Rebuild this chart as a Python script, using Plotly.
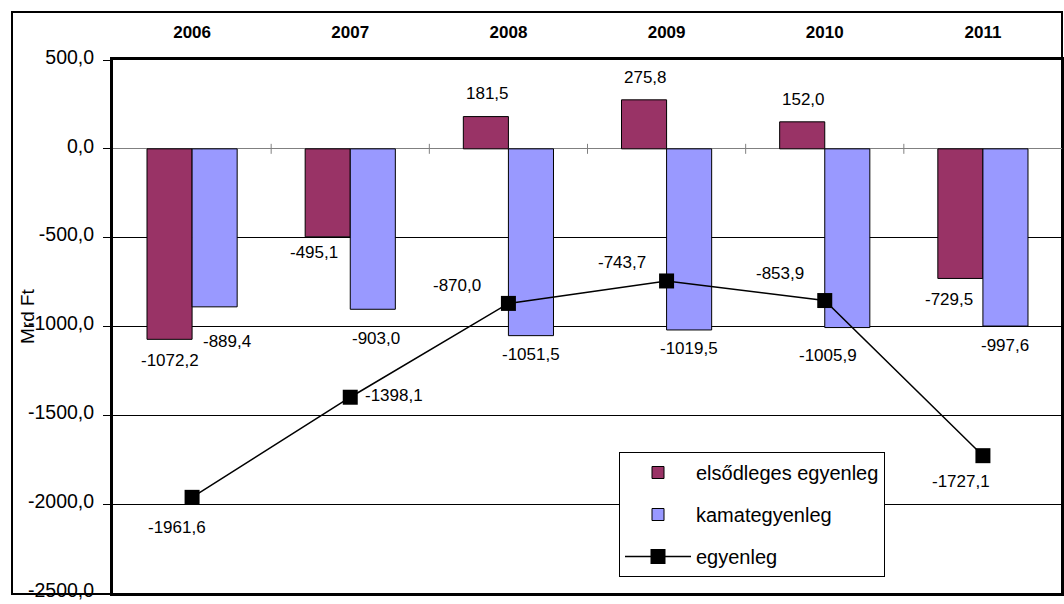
import plotly.graph_objects as go

# ---- data ----
years = ["2006", "2007", "2008", "2009", "2010", "2011"]
elsodleges = [-1072.2, -495.1, 181.5, 275.8, 152.0, -729.5]
kamat = [-889.4, -903.0, -1051.5, -1019.5, -1005.9, -997.6]
egyenleg = [-1961.6, -1398.1, -870.0, -743.7, -853.9, -1727.1]
y_ticks = [500, 0, -500, -1000, -1500, -2000, -2500]

# ---- layout geometry (pixels) ----
FW, FH = 1064, 604
L, R, T, B = 113, 2, 60, 11
PW, PH = FW - L - R, FH - T - B
def px(x):
    return (x - L) / PW
def py(y):
    return (FH - B - y) / PH

def fmt(v):
    return f"{v:.1f}".replace(".", ",")

MAROON = "#993366"
BLUE = "#9999FF"
FONT = "Liberation Sans, Arial, sans-serif"

fig = go.Figure()
fig.add_trace(go.Bar(x=years, y=elsodleges, name="elsődleges egyenleg",
                     marker=dict(color=MAROON, line=dict(color="black", width=1)),
                     legendgroup="a", legendrank=1))
fig.add_trace(go.Bar(x=years, y=kamat, name="kamategyenleg",
                     marker=dict(color=BLUE, line=dict(color="black", width=1)),
                     legendgroup="b", legendrank=2))
fig.add_trace(go.Scatter(x=years, y=egyenleg, name="egyenleg", mode="lines+markers",
                         line=dict(color="black", width=1.5),
                         marker=dict(symbol="square", size=15, color="black"),
                         legendgroup="c", legendrank=3))

# data label nudges (pixels, dx right, dy down) relative to bar end / marker
nudge_e = [(0, 21), (-14, 16), (2, -23), (1, -22), (1, -22), (-11, 21)]
nudge_k = [(12, 35), (3, 29), (0, 19), (0, 19), (-19, 28), (0, 19)]
nudge_l = [(-15, 30), (44, -2), (-51, -18), (-45, -18), (-45, -27), (-22, 26)]
bar_off = 22.5

ann = []
for i, yr in enumerate(years):
    for vals, nd, off in ((elsodleges, nudge_e, -bar_off), (kamat, nudge_k, bar_off), (egyenleg, nudge_l, 0)):
        dx, dy = nd[i]
        ann.append(dict(x=i, y=vals[i], xref="x", yref="y", text=fmt(vals[i]),
                        showarrow=False, xshift=off + dx, yshift=-dy,
                        font=dict(family=FONT, size=17, color="black")))
ann.append(dict(x=px(27), y=py(316), xref="paper", yref="paper", text="Mrd Ft",
                xanchor="center", yanchor="middle",
                textangle=-90, showarrow=False,
                font=dict(family=FONT, size=19, color="black")))

shapes = []
# category separator ticks on the zero line
for i in range(len(years) - 1):
    shapes.append(dict(type="line", xref="x", yref="y", x0=i + 0.5, x1=i + 0.5,
                       ysizemode="pixel", yanchor=0, y0=-5, y1=5,
                       line=dict(color="#808080", width=1)))
# outer chart frame
shapes.append(dict(type="rect", xref="paper", yref="paper",
                   x0=px(12), x1=px(1062), y0=py(594), y1=py(12),
                   line=dict(color="black", width=2), layer="below"))

fig.update_layout(
    width=FW, height=FH,
    margin=dict(l=L, r=R, t=T, b=B),
    paper_bgcolor="white", plot_bgcolor="white",
    barmode="group", bargap=0.43, bargroupgap=0,
    font=dict(family=FONT, color="black"),
    showlegend=True,
    legend=dict(x=px(619), y=py(452), xanchor="left", yanchor="top",
                bordercolor="black", borderwidth=1, bgcolor="white",
                font=dict(family=FONT, size=20), itemwidth=66,
                tracegroupgap=13, traceorder="grouped"),
    annotations=ann, shapes=shapes,
)
fig.update_xaxes(type="category", range=[-0.5, len(years) - 0.5], autorange=False,
                 side="top", showgrid=False, zeroline=False, automargin=False,
                 showline=True, mirror=True, linecolor="black", linewidth=3,
                 ticks="", ticklabelstandoff=12,
                 tickfont=dict(family=FONT, size=17, color="black", weight="bold"))
fig.update_yaxes(range=[-2500, 500], tickvals=y_ticks, ticktext=[fmt(v) for v in y_ticks],
                 showgrid=True, gridcolor="black", gridwidth=1, automargin=False,
                 zeroline=True, zerolinecolor="#808080", zerolinewidth=1,
                 showline=True, mirror=True, linecolor="black", linewidth=3,
                 ticks="outside", ticklen=7, tickcolor="black", ticklabelstandoff=5,
                 ticklabeloverflow="allow", ticklabelshift=-3,
                 tickfont=dict(family=FONT, size=19.5, color="black"))

fig.write_html("out.html")
